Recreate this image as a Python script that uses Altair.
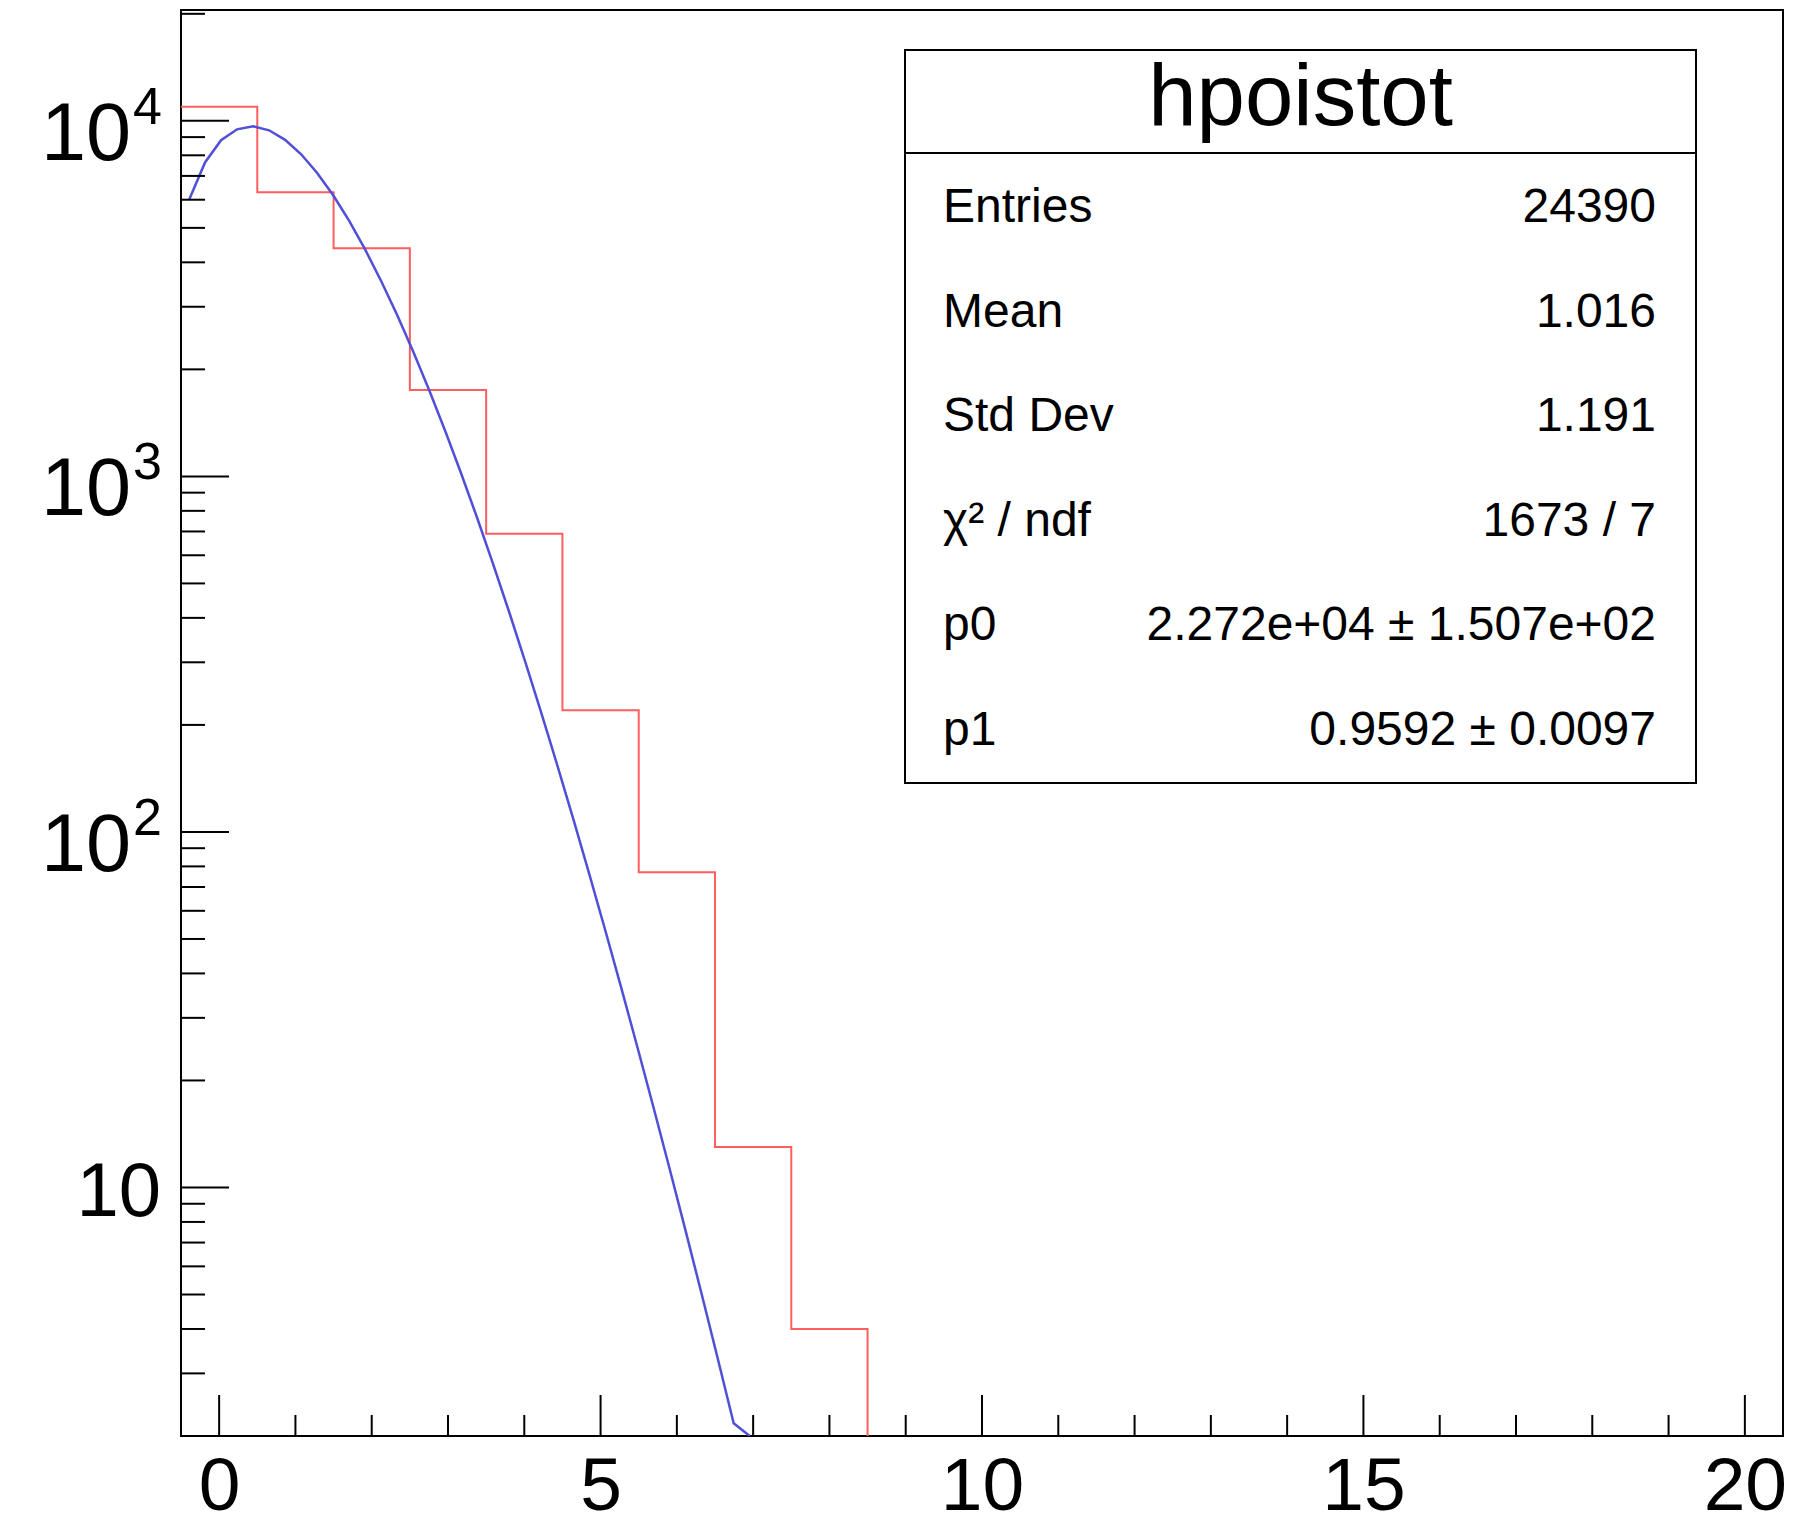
import altair as alt
import pandas as pd

# ---------------- data ----------------
# histogram "hpoistot": low edges of the filled bins, last high edge, contents
BIN_LOW_EDGES = [-0.5, 0.5, 1.5, 2.5, 3.5, 4.5, 5.5, 6.5, 7.5]
BIN_HIGH_EDGE = 8.5
BIN_COUNTS = [10950, 6300, 4380, 1750, 690, 220, 77, 13, 4]

# fitted curve as drawn (polyline vertices)
FIT_X = [-0.395, -0.185, 0.025, 0.235, 0.445, 0.655, 0.865, 1.075, 1.285, 1.495,
         1.705, 1.915, 2.125, 2.335, 2.545, 2.755, 2.965, 3.175, 3.385, 3.595,
         3.805, 4.015, 4.225, 4.435, 4.645, 4.855, 5.065, 5.275, 5.485, 5.695,
         5.905, 6.115, 6.325, 6.535, 6.745, 6.955]
FIT_Y = [5988, 7640, 8819, 9466, 9649, 9406, 8840, 8052, 7136, 6175,
         5229, 4341, 3540, 2838, 2242, 1745, 1340, 1016, 761.3, 564.1,
         413.5, 300.0, 215.6, 153.5, 108.3, 75.77, 52.57, 36.18, 24.72, 16.76,
         11.29, 7.549, 5.015, 3.310, 2.171, 2.0]

X_DOMAIN = [-0.5, 20.5]
Y_DOMAIN = [2.0, 20500]

X_MAJOR = [0, 5, 10, 15, 20]
X_MINOR = [1, 2, 3, 4, 6, 7, 8, 9, 11, 12, 13, 14, 16, 17, 18, 19]
Y_MAJOR = [10, 100, 1000, 10000]
Y_MINOR = [3, 4, 5, 6, 7, 8, 9,
           20, 30, 40, 50, 60, 70, 80, 90,
           200, 300, 400, 500, 600, 700, 800, 900,
           2000, 3000, 4000, 5000, 6000, 7000, 8000, 9000,
           20000]
Y_PLAIN_LABEL_VALUES = [10]
Y_PLAIN_LABEL_TEXT = ["10"]
Y_EXP_VALUES = [100, 1000, 10000]
Y_EXP_BASE = ["10", "10", "10"]
Y_EXP_TEXT = ["2", "3", "4"]

STAT_TITLE = "hpoistot"
STAT_NAMES = ["Entries", "Mean", "Std Dev", "χ² / ndf", "p0", "p1"]
STAT_VALUES = ["24390", "1.016", "1.191", "1673 / 7",
               "2.272e+04 ± 1.507e+02", "0.9592 ± 0.0097"]

# ---------------- styling ----------------
W, H = 1602, 1426
FONT = "Liberation Sans"
RED = "#ff5e5e"
BLUE = "#4f4fd8"

xscale = alt.Scale(domain=X_DOMAIN, nice=False, zero=False)
yscale = alt.Scale(type="log", domain=Y_DOMAIN, nice=False)
xaxis = alt.Axis(values=X_MAJOR, ticks=False, domain=False, grid=False,
                 labelFont=FONT, labelFontSize=75, labelColor="black",
                 labelPadding=14, labelFlush=False, title=None)


def X(field):
    return alt.X(f"{field}:Q", scale=xscale, axis=xaxis, title=None)


def Y(field):
    return alt.Y(f"{field}:Q", scale=yscale, axis=None, title=None)


hist_df = pd.DataFrame({"x": BIN_LOW_EDGES + [BIN_HIGH_EDGE],
                        "y": BIN_COUNTS + [Y_DOMAIN[0]]})
fit_df = pd.DataFrame({"x": FIT_X, "y": FIT_Y})

hist = alt.Chart(hist_df).mark_line(
    interpolate="step-after", color=RED, strokeWidth=2, clip=True
).encode(x=X("x"), y=Y("y"))

fit = alt.Chart(fit_df).mark_line(
    color=BLUE, strokeWidth=2.5, clip=True
).encode(x=X("x"), y=Y("y"))

xmaj = alt.Chart(pd.DataFrame({"v": X_MAJOR})).mark_rule(
    color="black", strokeWidth=2).encode(x=X("v"), y=alt.value(H), y2=alt.value(H - 41))
xmin = alt.Chart(pd.DataFrame({"v": X_MINOR})).mark_rule(
    color="black", strokeWidth=2).encode(x=X("v"), y=alt.value(H), y2=alt.value(H - 21))
ymaj = alt.Chart(pd.DataFrame({"v": Y_MAJOR})).mark_rule(
    color="black", strokeWidth=2).encode(y=Y("v"), x=alt.value(0), x2=alt.value(48))
ymin = alt.Chart(pd.DataFrame({"v": Y_MINOR})).mark_rule(
    color="black", strokeWidth=2).encode(y=Y("v"), x=alt.value(0), x2=alt.value(24))

ylab_plain = alt.Chart(pd.DataFrame({"v": Y_PLAIN_LABEL_VALUES, "t": Y_PLAIN_LABEL_TEXT})).mark_text(
    align="right", baseline="alphabetic", font=FONT, fontSize=76, color="black", dy=29
).encode(y=Y("v"), x=alt.value(-20), text="t:N")

exp_df = pd.DataFrame({"v": Y_EXP_VALUES, "b": Y_EXP_BASE, "e": Y_EXP_TEXT})
ylab_base = alt.Chart(exp_df).mark_text(
    align="right", baseline="alphabetic", font=FONT, fontSize=81, color="black", dy=39
).encode(y=Y("v"), x=alt.value(-50), text="b:N")
ylab_exp = alt.Chart(exp_df).mark_text(
    align="left", baseline="alphabetic", font=FONT, fontSize=52, color="black", dy=3
).encode(y=Y("v"), x=alt.value(-48), text="e:N")

# ---------------- statistics box ----------------
BOX_L, BOX_R, BOX_T, BOX_B, BOX_DIV = 724, 1515, 40, 773, 143
one = alt.InlineData(values=[{"k": 1}])

box = alt.Chart(one).mark_rect(fill="white", stroke="black", strokeWidth=2).encode(
    x=alt.value(BOX_L), x2=alt.value(BOX_R), y=alt.value(BOX_T), y2=alt.value(BOX_B))
divider = alt.Chart(one).mark_rule(color="black", strokeWidth=2).encode(
    x=alt.value(BOX_L), x2=alt.value(BOX_R), y=alt.value(BOX_DIV))


def txt(text, x, y, size, align):
    return alt.Chart(alt.InlineData(values=[{"t": text}])).mark_text(
        align=align, baseline="alphabetic", font=FONT, fontSize=size, color="black"
    ).encode(x=alt.value(x), y=alt.value(y), text="t:N")


stat_layers = [box, divider, txt(STAT_TITLE, (BOX_L + BOX_R) / 2, 115, 87, "center")]
row_base0, row_step = 212, 104.6
for i, (name, val) in enumerate(zip(STAT_NAMES, STAT_VALUES)):
    yb = row_base0 + i * row_step
    stat_layers.append(txt(name, 762, yb, 48, "left"))
    stat_layers.append(txt(val, 1475, yb, 48, "right"))

chart = alt.layer(
    hist, fit, xmaj, xmin, ymaj, ymin, ylab_plain, ylab_base, ylab_exp, *stat_layers
).properties(
    width=W, height=H,
    autosize=alt.AutoSizeParams(type="none"),
    padding={"left": 181, "top": 10, "right": 27, "bottom": 90},
    background="white",
).configure_view(stroke="black", strokeWidth=2)

chart.save("out.html", embed_options={"renderer": "svg", "actions": False})
